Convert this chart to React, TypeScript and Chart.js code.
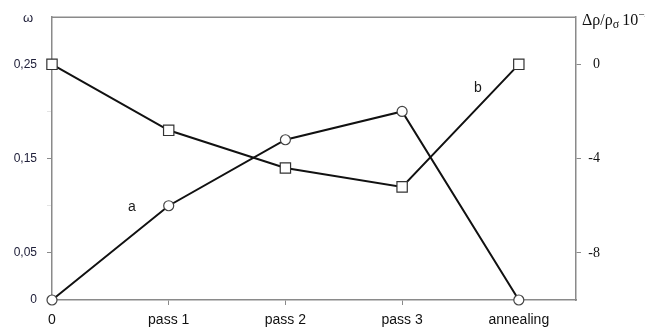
import React, { useEffect, useRef } from "react";
import { Chart, registerables } from "chart.js";

Chart.register(...registerables);

const categories = ["0", "pass 1", "pass 2", "pass 3", "annealing"];
const seriesA = [0, 0.1, 0.17, 0.2, 0]; // ω, left axis (circles)
const seriesB = [0, -2.8, -4.4, -5.2, 0]; // Δρ/ρσ·10^-4, right axis (squares)
const leftTicks = [0, 0.05, 0.1, 0.15, 0.2, 0.25];
const leftLabeled = [0, 0.05, 0.15, 0.25];
const rightTicks = [-8, -4, 0];
const xTicks = [0, 1, 2, 3, 4];

const AXIS = "#8a8a8a";

const decor = {
  id: "decor",
  afterDatasetsDraw(chart: any) {
    const { ctx, chartArea: ca, scales } = chart;
    ctx.save();
    // frame top line
    ctx.strokeStyle = AXIS;
    ctx.lineWidth = 1.5;
    ctx.beginPath();
    ctx.moveTo(ca.left, ca.top);
    ctx.lineTo(ca.right, ca.top);
    ctx.stroke();
    // series labels
    ctx.fillStyle = "#1a1a1a";
    ctx.font = "14px 'Liberation Sans', Arial, sans-serif";
    ctx.textAlign = "center";
    ctx.textBaseline = "middle";
    ctx.fillText("a", scales.x.getPixelForValue(0.685), scales.y.getPixelForValue(0.098));
    ctx.fillText("b", scales.x.getPixelForValue(3.65), scales.y.getPixelForValue(0.225));
    // left axis title
    ctx.font = "13px 'Liberation Sans', Arial, sans-serif";
    ctx.fillStyle = "#20203a";
    ctx.fillText("ω", ca.left - 24, ca.top + 1);
    // right axis title
    ctx.textAlign = "left";
    ctx.textBaseline = "alphabetic";
    ctx.fillStyle = "#111";
    let x = ca.right + 6;
    const base = ca.top + 8;
    ctx.font = "16px 'Liberation Serif', 'Times New Roman', serif";
    const p1 = "Δρ/ρ";
    ctx.fillText(p1, x, base);
    x += ctx.measureText(p1).width;
    ctx.font = "12px 'Liberation Serif', 'Times New Roman', serif";
    ctx.fillText("σ", x, base + 3);
    x += ctx.measureText("σ").width + 3;
    ctx.font = "16px 'Liberation Serif', 'Times New Roman', serif";
    ctx.fillText("10", x, base);
    x += ctx.measureText("10").width;
    ctx.font = "11px 'Liberation Serif', 'Times New Roman', serif";
    ctx.fillText("−4", x, base - 7);
    ctx.restore();
  },
};

export default function App() {
  const ref = useRef<HTMLCanvasElement | null>(null);
  useEffect(() => {
    document.body.style.margin = "0";
    const canvas = ref.current!;
    const chart = new Chart(canvas, {
      type: "line",
      data: {
        datasets: [
          {
            label: "a",
            data: seriesA.map((v, i) => ({ x: i, y: v })),
            yAxisID: "y",
            borderColor: "#111",
            borderWidth: 2,
            pointStyle: "circle",
            pointRadius: 5,
            pointBackgroundColor: "#fff",
            pointBorderColor: "#444",
            pointBorderWidth: 1.2,
            tension: 0,
            clip: false,
          },
          {
            label: "b",
            data: seriesB.map((v, i) => ({ x: i, y: v })),
            yAxisID: "y1",
            borderColor: "#111",
            borderWidth: 2,
            pointStyle: "rect",
            pointRadius: 7.3,
            pointBackgroundColor: "#fff",
            pointBorderColor: "#333",
            pointBorderWidth: 1.2,
            tension: 0,
            clip: false,
          },
        ],
      },
      options: {
        animation: false,
        responsive: false,
        maintainAspectRatio: false,
        layout: { padding: { top: 16, left: 0, right: 45, bottom: 0 } },
        plugins: { legend: { display: false }, tooltip: { enabled: false } },
        scales: {
          x: {
            type: "linear",
            min: 0,
            max: 4.49,
            afterBuildTicks: (s: any) => {
              s.ticks = xTicks.map((v) => ({ value: v }));
            },
            afterFit: (s: any) => {
              s.height = 31;
            },
            ticks: {
              padding: 7,
              maxRotation: 0,
              autoSkip: false,
              color: "#111",
              font: { family: "'Liberation Sans', Arial, sans-serif", size: 14 },
              callback: (v: any) => categories[v] ?? "",
            },
            grid: { display: true, drawOnChartArea: false, drawTicks: true, tickLength: 5, color: AXIS, lineWidth: 1 },
            border: { display: true, color: AXIS, width: 1.5 },
          },
          y: {
            type: "linear",
            position: "left",
            min: 0,
            max: 0.3,
            afterBuildTicks: (s: any) => {
              s.ticks = leftTicks.map((v) => ({ value: v }));
            },
            afterFit: (s: any) => {
              s.width = 52;
            },
            ticks: {
              padding: 10,
              autoSkip: false,
              color: "#20203a",
              font: { family: "'Liberation Sans', Arial, sans-serif", size: 12 },
              callback: (v: any) =>
                leftLabeled.some((l) => Math.abs(l - v) < 1e-9) ? (v === 0 ? "0" : Number(v).toFixed(2).replace(".", ",")) : "",
            },
            grid: {
              display: true,
              drawOnChartArea: false,
              drawTicks: true,
              tickLength: 5,
              color: (c: any) =>
                c.tick && leftLabeled.some((l) => Math.abs(l - c.tick.value) < 1e-9) ? AXIS : "#e4e4e4",
            },
            border: { display: true, color: AXIS, width: 1.5 },
          },
          y1: {
            type: "linear",
            position: "right",
            min: -10,
            max: 2,
            afterBuildTicks: (s: any) => {
              s.ticks = rightTicks.map((v) => ({ value: v }));
            },
            afterFit: (s: any) => {
              s.width = 24;
            },
            ticks: {
              padding: 7,
              crossAlign: "far",
              autoSkip: false,
              color: "#111",
              font: { family: "'Liberation Serif', 'Times New Roman', serif", size: 14 },
              callback: (v: any) => String(v),
            },
            grid: { display: true, drawOnChartArea: false, drawTicks: true, tickLength: 5, color: AXIS },
            border: { display: true, color: AXIS, width: 1.5 },
          },
        },
      },
      plugins: [decor],
    } as any);
    return () => chart.destroy();
  }, []);
  return (
    <div style={{ width: 645, height: 331 }}>
      <canvas ref={ref} width={645} height={331} style={{ display: "block" }} />
    </div>
  );
}
